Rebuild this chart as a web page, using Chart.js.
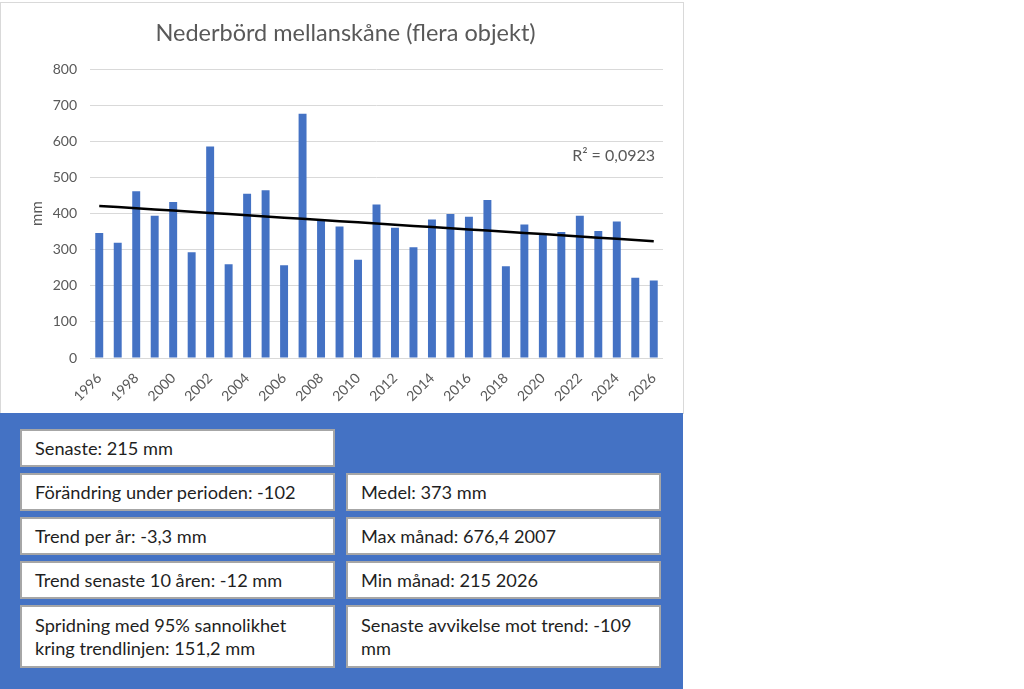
<!DOCTYPE html>
<html>
<head>
<meta charset="utf-8">
<script src="https://cdn.jsdelivr.net/npm/chart.js@4/dist/chart.umd.min.js"></script>
<style>
  html,body{margin:0;padding:0;background:#fff;width:1024px;height:689px;overflow:hidden;font-family:Lato,"Noto Sans",sans-serif;}
  #chartBox{position:absolute;left:0;top:2px;width:682px;height:410px;border:1px solid #d9d9d9;background:#fff;}
  #chartBox canvas{position:absolute;left:0;top:0;}
  #panel{position:absolute;left:0;top:413px;width:683px;height:276px;background:#4472C4;}
  .box{position:absolute;background:#fff;border:2px solid #a6a6a6;box-sizing:border-box;color:#1f1f1f;font-size:18.2px;line-height:23px;padding:0 0 0 13px;display:flex;align-items:center;}
</style>
</head>
<body>
<div id="chartBox"><canvas id="c" width="682" height="410"></canvas></div>
<div id="panel"></div>
<script>
// ---- data ----
const years = ['1996','1997','1998','1999','2000','2001','2002','2003','2004','2005','2006','2007','2008','2009','2010','2011','2012','2013','2014','2015','2016','2017','2018','2019','2020','2021','2022','2023','2024','2025','2026'];
const precipitation = [346,319,462,394,432,293,586,260,455,465,257,676.4,381,364,272,425,361,307,384,399,391,438,254,370,346,349,394,352,378,222,215];
const yTicks = [0,100,200,300,400,500,600,700,800];
const chartTitle = 'Nederbörd mellanskåne (flera objekt)';
const yAxisTitle = 'mm';
const r2Label = 'R² = 0,0923';
const statsLeft = ['Senaste: 215 mm','Förändring under perioden: -102','Trend per år: -3,3 mm','Trend senaste 10 åren: -12 mm','Spridning med 95% sannolikhet kring trendlinjen: 151,2 mm'];
const statsRight = ['','Medel: 373 mm','Max månad: 676,4 2007','Min månad: 215 2026','Senaste avvikelse mot trend: -109 mm'];

// linear trendline (least squares) of the series
const n = precipitation.length;
const mx = (n-1)/2;
const my = precipitation.reduce((a,b)=>a+b,0)/n;
let sxy=0, sxx=0;
precipitation.forEach((v,i)=>{sxy+=(i-mx)*(v-my); sxx+=(i-mx)*(i-mx);});
const slope = sxy/sxx;
const trend = precipitation.map((v,i)=> my + slope*(i-mx));

// ---- stat boxes ----
const panel = document.getElementById('panel');
const rowTops = [16,60,104,148,192];
const rowHeights = [38,38,38,38,63];
function addBox(text,left,top,w,h){
  if(!text) return;
  const d=document.createElement('div');
  d.className='box';
  d.style.left=left+'px'; d.style.top=top+'px'; d.style.width=w+'px'; d.style.height=h+'px';
  d.textContent=text;
  panel.appendChild(d);
}
statsLeft.forEach((t,i)=>addBox(t,20,rowTops[i],315,rowHeights[i]));
statsRight.forEach((t,i)=>addBox(t,346,rowTops[i],315,rowHeights[i]));
panel.querySelectorAll('.box').forEach(b=>{b.style.paddingRight='20px';});

// ---- chart ----
const r2Plugin = {
  id:'r2',
  afterDatasetsDraw(chart){
    const ctx=chart.ctx, y=chart.scales.y, a=chart.chartArea;
    ctx.save();
    ctx.font='16px Lato, "Noto Sans", sans-serif';
    ctx.fillStyle='#595959';
    ctx.textAlign='right';
    ctx.textBaseline='middle';
    ctx.fillText(r2Label, a.right-8, y.getPixelForValue(559));
    ctx.restore();
  }
};

new Chart(document.getElementById('c'), {
  data:{
    labels: years,
    datasets:[
      {type:'line', data:trend, borderColor:'#000', borderWidth:2.5, pointRadius:0, fill:false, order:0},
      {type:'bar', data:precipitation, backgroundColor:'#4472C4', barPercentage:0.43, categoryPercentage:1, order:1}
    ]
  },
  options:{
    responsive:false, animation:false,
    layout:{padding:{left:27,right:20,top:0,bottom:0}},
    plugins:{
      legend:{display:false}, tooltip:{enabled:false},
      title:{display:true, text:chartTitle, color:'#595959', font:{family:'Lato', size:23.5, weight:'normal'}, padding:{top:16,bottom:22}}
    },
    scales:{
      x:{
        grid:{display:false}, border:{display:false},
        ticks:{autoSkip:false, minRotation:45, maxRotation:45, color:'#595959', font:{family:'Lato', size:14}, padding:4,
          callback:function(v,i){return i%2===0 ? this.getLabelForValue(v) : '';}},
        afterFit(s){s.height=55;}
      },
      y:{
        min:0, max:800,
        afterBuildTicks(s){s.ticks=yTicks.map(v=>({value:v}));},
        grid:{color:'#d9d9d9', lineWidth:1, drawTicks:false}, border:{display:false},
        ticks:{color:'#595959', font:{family:'Lato', size:14}, padding:13},
        title:{display:true, text:yAxisTitle, color:'#595959', font:{family:'Lato', size:15}, padding:{top:0,bottom:0}},
        afterFit(s){s.width=62;}
      }
    }
  },
  plugins:[r2Plugin]
});
</script>
</body>
</html>
